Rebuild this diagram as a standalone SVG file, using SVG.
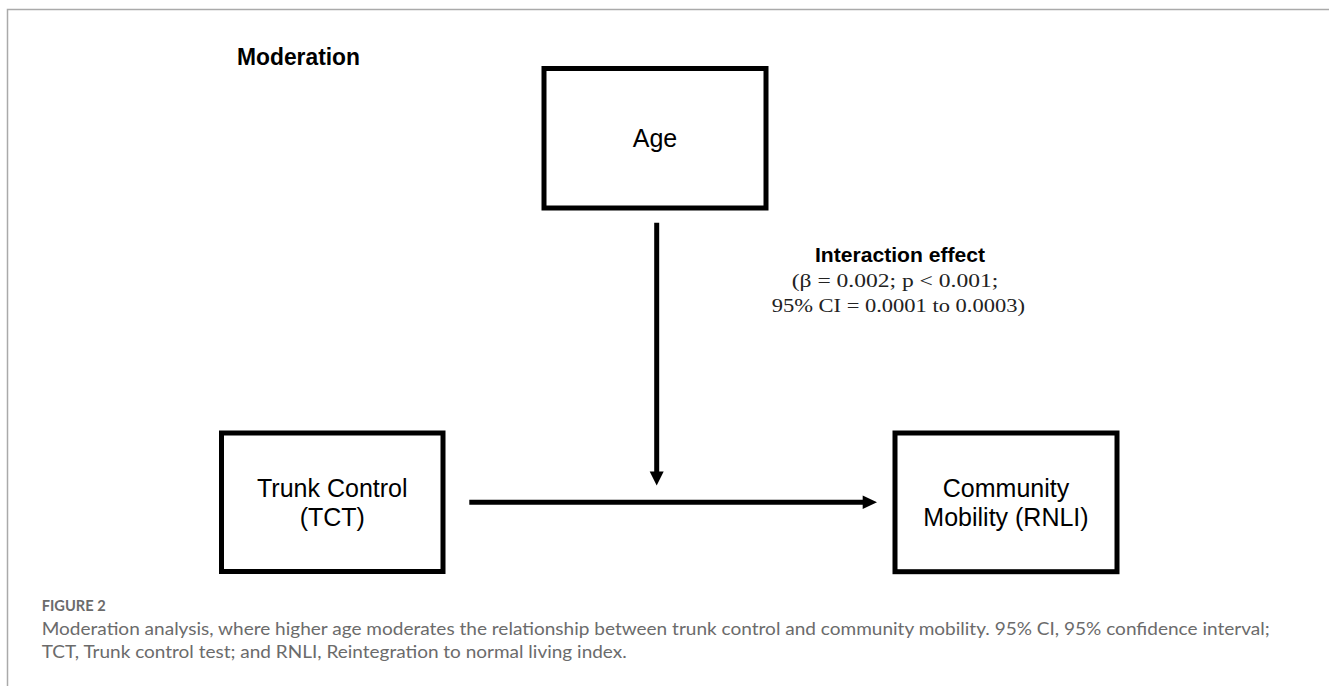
<svg xmlns="http://www.w3.org/2000/svg" width="1329" height="686" viewBox="0 0 1329 686">
  <defs>
    <style>
      .box { fill: #ffffff; stroke: #000000; stroke-width: 5; }
      .lbl { font-family: "Liberation Sans", Arial, Helvetica, sans-serif; font-size: 25px; fill: #000; text-anchor: middle; }
      .bold { font-family: "Liberation Sans", Arial, Helvetica, sans-serif; font-weight: bold; fill: #000; }
      .math { font-family: "Liberation Serif", "Times New Roman", serif; font-size: 19px; fill: #222; }
      .edge { stroke: #000; stroke-width: 5; fill: none; }
      .cap { font-family: Lato, "Open Sans", "Noto Sans", sans-serif; fill: #6b6b6b; }
    </style>
  </defs>
  <rect x="0" y="0" width="1329" height="686" fill="#ffffff"/>
  <!-- frame -->
  <path d="M7.5,686 V9.5 H1329" fill="none" stroke="#aaaaaa" stroke-width="1.5"/>

  <text class="bold" x="237" y="65" font-size="23" textLength="123" lengthAdjust="spacingAndGlyphs">Moderation</text>

  <g id="connectors">
    <line class="edge" x1="656.7" y1="222.7" x2="656.7" y2="474" />
    <path d="M649.7,471.5 L663.7,471.5 L656.7,485.5 Z" fill="#000"/>
    <line class="edge" x1="469.3" y1="502.3" x2="865" y2="502.3" />
    <path d="M862.7,495.5 L877,502.3 L862.7,509.1 Z" fill="#000"/>
  </g>

  <g id="node-age">
    <rect class="box" x="544" y="68.5" width="222" height="139.5"/>
    <text class="lbl" x="655" y="147.3">Age</text>
  </g>

  <g id="node-tct">
    <rect class="box" x="221.5" y="433" width="221.5" height="138.5"/>
    <text class="lbl" x="332.3" y="497.3">Trunk Control</text>
    <text class="lbl" x="332.3" y="525.5">(TCT)</text>
  </g>

  <g id="node-rnli">
    <rect class="box" x="895" y="433" width="222" height="138.7"/>
    <text class="lbl" x="1006" y="497.3">Community</text>
    <text class="lbl" x="1006" y="525.5">Mobility (RNLI)</text>
  </g>

  <g id="label-interaction">
    <text class="bold" x="900" y="261.7" font-size="19.5" text-anchor="middle" textLength="170" lengthAdjust="spacingAndGlyphs">Interaction effect</text>
    <text class="math" x="791.7" y="287.3" textLength="206.6" lengthAdjust="spacingAndGlyphs">(β = 0.002; p &lt; 0.001;</text>
    <text class="math" x="771.7" y="311.7" textLength="253.3" lengthAdjust="spacingAndGlyphs">95% CI = 0.0001 to 0.0003)</text>
  </g>

  <g id="caption">
    <text class="cap" x="41.7" y="610.7" font-size="15" font-weight="bold" fill="#7a7a7a" textLength="64" lengthAdjust="spacingAndGlyphs">FIGURE 2</text>
    <text class="cap" x="41.7" y="635" font-size="17.5" textLength="1228" lengthAdjust="spacingAndGlyphs">Moderation analysis, where higher age moderates the relationship between trunk control and community mobility. 95% CI, 95% confidence interval;</text>
    <text class="cap" x="41.7" y="658.3" font-size="17.5" textLength="585" lengthAdjust="spacingAndGlyphs">TCT, Trunk control test; and RNLI, Reintegration to normal living index.</text>
  </g>
</svg>
